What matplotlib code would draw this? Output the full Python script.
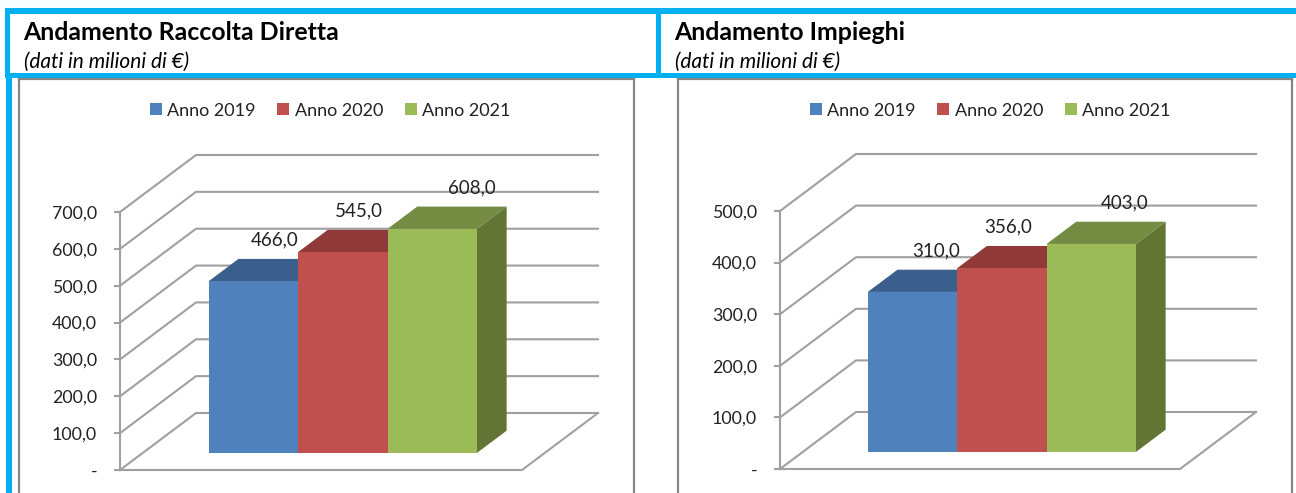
# Two fake 3D column charts (Excel style) side by side, drawn on plain 2D axes.

import matplotlib.pyplot as plt
from matplotlib.patches import Patch, Polygon, Rectangle

W, H = 1296, 493

plt.rcParams['font.family'] = ['Lato', 'DejaVu Sans']

years = ['Anno 2019', 'Anno 2020', 'Anno 2021']
colors = ['#4F81BD', '#C0504D', '#9BBB59']
tops = ['#3A5F8D', '#8F3A39', '#748C42']
sides = ['#324F75', '#773030', '#627534']

titles = ['Andamento Raccolta Diretta', 'Andamento Impieghi']
subtitle = '(dati in milioni di €)'

raccolta = [466, 545, 608]
raccolta_ticks = [0, 100, 200, 300, 400, 500, 600, 700]
impieghi = [310, 356, 403]
impieghi_ticks = [0, 100, 200, 300, 400, 500]

GRID = '#A0A0A0'
BLUE = '#00B0F0'
BAR_W = 89.4       # pixels, one x unit
DEPTH_X = 76       # floor depth in pixels
DEPTH_Y = 57
BAR_D0 = 0.30      # bars stand between these floor depths
BAR_D1 = 0.69


def fmt(v):
    # italian decimal comma, zero shown as a dash
    if v == 0:
        return '-'
    return ('%.1f' % v).replace('.', ',')


def draw_panel(fig, frame, x0, x1, y0, y_top, bar_left, values, ticks, label_dx, label_dy):
    # frame = left/right pixels of the chart box, x0/x1/y0/y_top = front plane pixels
    fl, fr = frame
    ft, fb = 79, 510
    ax = fig.add_axes([fl / W, 1 - fb / H, (fr - fl) / W, (fb - ft) / H])
    ppu = (y0 - y_top) / ticks[-1]
    ax.set_xlim((fl - x0) / BAR_W, (fr - x0) / BAR_W)
    ax.set_ylim((y0 - fb) / ppu, (y0 - ft) / ppu)
    ax.set_xticks([])
    ax.set_yticks([])
    for s in ax.spines.values():
        s.set_color('#868686')
        s.set_linewidth(1.6)

    width = (x1 - x0) / BAR_W
    dx = DEPTH_X / BAR_W
    dy = DEPTH_Y / ppu

    def proj(x, v, d):
        return x + d * dx, v + d * dy

    # walls
    for t in ticks:
        a = proj(0, t, 0)
        b = proj(0, t, 1)
        c = proj(width, t, 1)
        ax.plot([a[0], b[0], c[0]], [a[1], b[1], c[1]], color=GRID, lw=1.5, zorder=1)
        ax.plot([a[0] - 5 / BAR_W, a[0]], [a[1], a[1]], color=GRID, lw=1.5, zorder=1)
        ax.annotate(fmt(t), a, xytext=(-23 * 0.72, -1.5 * 0.72), textcoords='offset points',
                    ha='right', va='center', fontsize=12.8, color='#222222')
    # floor and axis
    pts = [proj(0, 0, 0), proj(width, 0, 0), proj(width, 0, 1)]
    ax.plot([p[0] for p in pts], [p[1] for p in pts], color=GRID, lw=1.5, zorder=1)
    ax.plot([0, 0], [0, ticks[-1]], color=GRID, lw=1.5, zorder=1)

    # columns
    for i, v in enumerate(values):
        l = bar_left + i
        r = l + 1
        front = [proj(l, 0, BAR_D0), proj(r, 0, BAR_D0), proj(r, v, BAR_D0), proj(l, v, BAR_D0)]
        top = [proj(l, v, BAR_D0), proj(r, v, BAR_D0), proj(r, v, BAR_D1), proj(l, v, BAR_D1)]
        side = [proj(r, 0, BAR_D0), proj(r, 0, BAR_D1), proj(r, v, BAR_D1), proj(r, v, BAR_D0)]
        ax.add_patch(Polygon(side, color=sides[i], lw=0, zorder=2 + i))
        ax.add_patch(Polygon(top, color=tops[i], lw=0, zorder=2 + i))
        ax.add_patch(Polygon(front, color=colors[i], lw=0, zorder=2 + i))
        lx, ly = proj(l + 0.5, v, BAR_D0)
        ax.annotate(fmt(v), (lx, ly), xytext=(label_dx[i] * 0.72, label_dy * 0.72),
                    textcoords='offset points', ha='center', va='center',
                    fontsize=13.5, color='#222222', zorder=10)

    handles = [Patch(facecolor=c, label=y) for c, y in zip(colors, years)]
    ax.legend(handles=handles, loc='center', bbox_to_anchor=((x0 + 210 - fl) / (fr - fl), (fb - 110.5) / (fb - ft)),
              ncol=3, frameon=False, fontsize=13, handlelength=0.68, handleheight=0.68,
              handletextpad=0.28, columnspacing=1.2, labelcolor='#222222', borderpad=0)
    return ax


def main():
    fig = plt.figure(figsize=(W / 100, H / 100), dpi=100, facecolor='white')

    bg = fig.add_axes([0, 0, 1, 1])
    bg.set_xlim(0, W)
    bg.set_ylim(H, 0)
    bg.axis('off')

    # cyan frame of the two heading boxes
    bg.add_patch(Rectangle((0, 0), W, 8, color='#F6FDFE', lw=0))
    bg.add_patch(Rectangle((5, 8), W - 5, 5.5, color=BLUE, lw=0))
    bg.add_patch(Rectangle((5, 8), 5, 70, color=BLUE, lw=0))
    bg.add_patch(Rectangle((6, 73), 5.5, H - 73, color=BLUE, lw=0))
    bg.add_patch(Rectangle((5, 73), W - 5, 5, color=BLUE, lw=0))
    bg.add_patch(Rectangle((656, 8), 5, 70, color=BLUE, lw=0))

    for x, t in zip([23, 674], titles):
        bg.text(x, 32, t, fontsize=17.9, fontweight='bold', color='black', va='center', ha='left')
        bg.text(x + 1, 61.5, subtitle, fontsize=15, style='italic', color='black', va='center', ha='left')

    draw_panel(fig, (19, 634), 120, 522, 470, 212, 66 / BAR_W,
               raccolta, raccolta_ticks, [21, 16, 40], 41)
    draw_panel(fig, (678, 1292), 780, 1180, 469, 211, 65 / BAR_W,
               impieghi, impieghi_ticks, [24, 6, 33], 41)

    fig.savefig('out.png', dpi=100)


if __name__ == "__main__":
    main()
